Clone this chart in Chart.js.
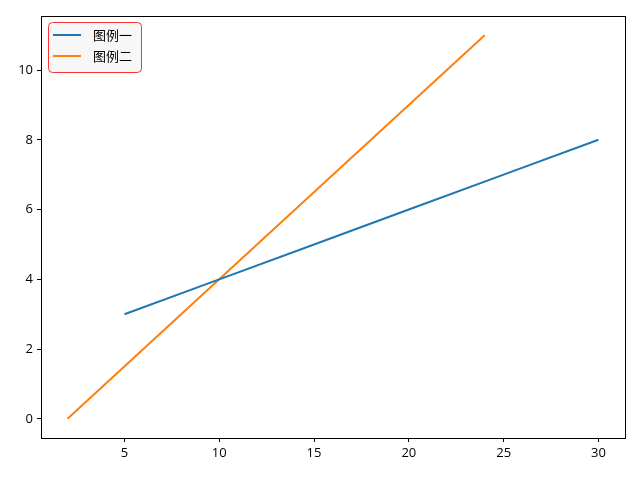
<!DOCTYPE html>
<html>
<head>
<meta charset="utf-8">
<script src="https://cdn.jsdelivr.net/npm/chart.js@4"></script>
<style>
  html, body { margin: 0; padding: 0; background: #fff; }
  #wrap { width: 640px; height: 480px; }
</style>
</head>
<body>
<div id="wrap"><canvas id="chart" width="640" height="480"></canvas></div>
<script>
// data
const seriesNames = ['图例一', '图例二'];
const lineOneX = [5, 10, 15, 20, 25, 30];
const lineOneY = [3, 4, 5, 6, 7, 8];
const lineTwoX = [2, 10, 24];
const lineTwoY = [0, 4, 11];
const xTicks = [5, 10, 15, 20, 25, 30];
const yTicks = [0, 2, 4, 6, 8, 10];
const colors = ['#1f77b4', '#ff7f0e'];

const FONT = '"Noto Sans CJK SC", "DejaVu Sans", sans-serif';
const TICK_FONT = '"Open Sans", "Noto Sans CJK SC", sans-serif';

function toPoints(xs, ys) {
  return xs.map((x, i) => ({ x: x, y: ys[i] }));
}

// draws the box around the plot and the legend inside it
const framePlugin = {
  id: 'frame',
  afterDatasetsDraw(chart) {
    const ctx = chart.ctx;
    const a = chart.chartArea;
    ctx.save();
    ctx.strokeStyle = '#000';
    ctx.lineWidth = 1;
    ctx.strokeRect(Math.round(a.left) + 0.5, Math.round(a.top) + 0.5,
      Math.round(a.right - a.left), Math.round(a.bottom - a.top));

    // legend
    const bx = a.left + 7, by = a.top + 6, bw = 93, bh = 50;
    ctx.beginPath();
    ctx.roundRect(bx + 0.5, by + 0.5, bw, bh, 4);
    ctx.fillStyle = 'rgba(245,245,245,0.8)';
    ctx.fill();
    ctx.strokeStyle = 'rgba(255,0,0,0.8)';
    ctx.stroke();
    ctx.font = '13px ' + FONT;
    ctx.textBaseline = 'middle';
    chart.data.datasets.forEach((ds, i) => {
      const yy = by + 13 + i * 21;
      ctx.beginPath();
      ctx.moveTo(bx + 5, yy);
      ctx.lineTo(bx + 33, yy);
      ctx.strokeStyle = ds.borderColor;
      ctx.lineWidth = 2;
      ctx.stroke();
      ctx.fillStyle = '#000';
      ctx.fillText(ds.label, bx + 45, yy);
    });
    ctx.restore();
  }
};

new Chart(document.getElementById('chart'), {
  type: 'line',
  data: {
    datasets: [
      { label: seriesNames[0], data: toPoints(lineOneX, lineOneY), borderColor: colors[0], backgroundColor: colors[0] },
      { label: seriesNames[1], data: toPoints(lineTwoX, lineTwoY), borderColor: colors[1], backgroundColor: colors[1] }
    ]
  },
  options: {
    responsive: false,
    animation: false,
    layout: { padding: { top: 16, right: 15, left: 0, bottom: 0 } },
    elements: {
      point: { radius: 0 },
      line: { borderWidth: 2, tension: 0 }
    },
    plugins: {
      legend: { display: false },
      tooltip: { enabled: false }
    },
    scales: {
      x: {
        type: 'linear',
        min: 0.6,
        max: 31.4,
        afterBuildTicks: (s) => { s.ticks = xTicks.map(v => ({ value: v })); },
        afterFit: (s) => { s.height = 42; },
        grid: { drawOnChartArea: false, tickLength: 4, color: '#000' },
        border: { color: '#000' },
        ticks: { color: '#000', font: { family: TICK_FONT, size: 13 }, padding: 3, maxRotation: 0 }
      },
      y: {
        min: -0.55,
        max: 11.55,
        afterBuildTicks: (s) => { s.ticks = yTicks.map(v => ({ value: v })); },
        afterFit: (s) => { s.width = 41; },
        grid: { drawOnChartArea: false, tickLength: 4, color: '#000' },
        border: { color: '#000' },
        ticks: { color: '#000', font: { family: TICK_FONT, size: 13 }, padding: 4 }
      }
    }
  },
  plugins: [framePlugin]
});
</script>
</body>
</html>
